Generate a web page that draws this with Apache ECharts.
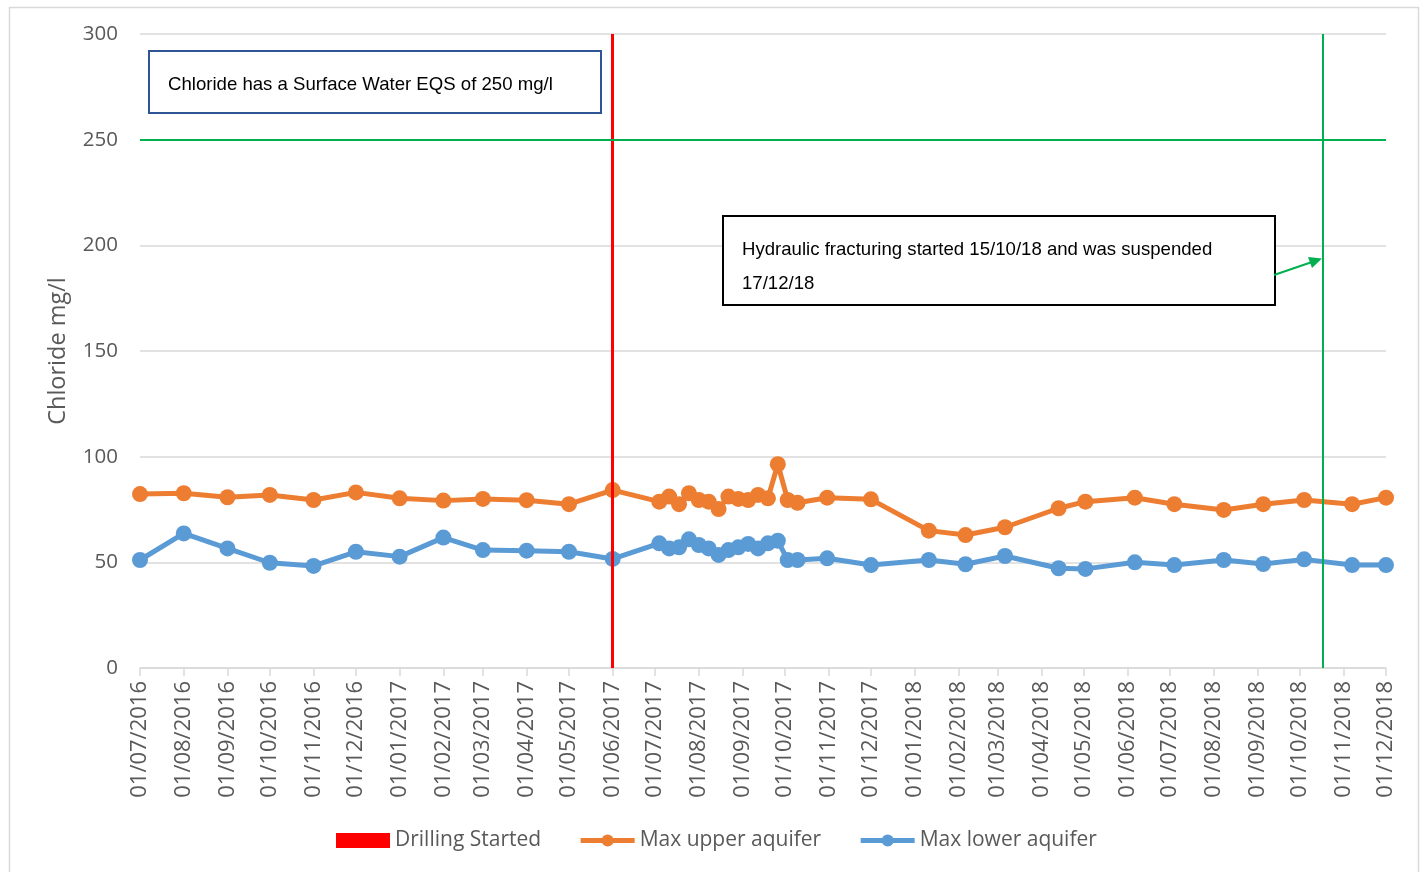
<!DOCTYPE html>
<html>
<head>
<meta charset="utf-8">
<script src="https://cdn.jsdelivr.net/npm/echarts@6/dist/echarts.min.js"></script>
<style>
html,body{margin:0;padding:0;background:#fff;}
#chart{width:1423px;height:872px;}
</style>
</head>
<body>
<div id="chart"></div>
<script>
const sampleDates = [
  '2016-07-01','2016-08-01','2016-09-01','2016-10-01','2016-11-01','2016-12-01',
  '2017-01-01','2017-02-01','2017-03-01','2017-04-01','2017-05-01','2017-06-01',
  '2017-07-04','2017-07-11','2017-07-18','2017-07-25','2017-08-01','2017-08-08',
  '2017-08-15','2017-08-22','2017-08-29','2017-09-05','2017-09-12','2017-09-19',
  '2017-09-26','2017-10-03','2017-10-10','2017-10-31',
  '2017-12-01','2018-01-11','2018-02-06','2018-03-06','2018-04-13','2018-05-02',
  '2018-06-06','2018-07-04','2018-08-08','2018-09-05','2018-10-04','2018-11-07','2018-12-01'
];
const upperAquifer = [
  82.3, 82.7, 80.8, 81.9, 79.5, 83.1, 80.3, 79.2, 80.0, 79.4, 77.5, 84.2,
  78.7, 81.1, 77.5, 82.7, 79.5, 78.7, 75.2, 81.1, 80.0, 79.5, 81.9, 80.3,
  96.4, 79.5, 78.2, 80.6,
  79.8, 65.0, 62.9, 66.6, 75.6, 78.7, 80.6, 77.5, 74.8, 77.5, 79.5, 77.5, 80.6
];
const lowerAquifer = [
  51.1, 63.7, 56.6, 49.8, 48.3, 55.0, 52.7, 61.7, 55.8, 55.5, 55.0, 51.6,
  59.0, 56.6, 57.1, 60.9, 58.2, 56.6, 53.5, 55.8, 57.1, 58.7, 56.6, 59.0,
  60.2, 51.1, 51.1, 51.9,
  48.7, 51.1, 49.1, 53.0, 47.2, 46.9, 50.0, 48.7, 51.1, 49.2, 51.4, 48.7, 48.7
];
const drillingStartDate = '2017-06-01';
const fracturingDate = '2018-10-17';
const eqsLimit = 250;
const axisMinDate = '2016-07-01';
const axisMaxDate = '2018-12-01';
const seriesNames = ['Drilling Started', 'Max upper aquifer', 'Max lower aquifer'];
const noteEqs = 'Chloride has a Surface Water EQS of 250 mg/l';
const noteFrackLines = ['Hydraulic fracturing started 15/10/18 and was suspended', '17/12/18'];

const pad = n => (n < 10 ? '0' : '') + n;
const fmtDate = v => { const d = new Date(v); return pad(d.getDate()) + '/' + pad(d.getMonth() + 1) + '/' + d.getFullYear(); };

const chart = echarts.init(document.getElementById('chart'));
const axisFont = '"Open Sans", sans-serif';
const noteFont = '"Liberation Sans", Arial, sans-serif';

chart.setOption({
  animation: false,
  backgroundColor: '#fff',
  grid: { left: 140, right: 37, top: 34, bottom: 204, containLabel: false },
  legend: {
    bottom: 16, left: 331, itemGap: 37, itemWidth: 54, itemHeight: 15,
    textStyle: { color: '#595959', fontSize: 21, fontFamily: axisFont },
    data: [
      { name: seriesNames[0], icon: 'rect', itemStyle: { color: '#FF0000' } },
      { name: seriesNames[1], lineStyle: { width: 5 } },
      { name: seriesNames[2], lineStyle: { width: 5 } }
    ]
  },
  xAxis: {
    type: 'time', min: axisMinDate, max: axisMaxDate,
    minInterval: 28 * 86400000, maxInterval: 31 * 86400000,
    axisLine: { lineStyle: { color: '#d9d9d9', width: 1.5 } },
    axisTick: { show: true, length: 8, lineStyle: { color: '#d9d9d9', width: 1.5 } },
    splitLine: { show: false },
    axisLabel: {
      rotate: 90, color: '#595959', fontSize: 22, fontFamily: axisFont, margin: 13,
      showMinLabel: true, showMaxLabel: true, hideOverlap: false,
      formatter: v => fmtDate(v)
    }
  },
  yAxis: {
    type: 'value', min: 0, max: 300, interval: 50,
    name: 'Chloride mg/l', nameLocation: 'middle', nameRotate: 90, nameGap: 70,
    nameTextStyle: { color: '#595959', fontSize: 23.5, fontFamily: axisFont },
    axisLine: { show: false }, axisTick: { show: false },
    splitLine: { lineStyle: { color: '#d9d9d9', width: 1.5 } },
    axisLabel: { color: '#595959', fontSize: 20.5, fontFamily: axisFont, margin: 22 }
  },
  series: [
    {
      name: seriesNames[0], type: 'line', data: [], color: '#FF0000',
      markLine: {
        silent: true, symbol: 'none', label: { show: false },
        lineStyle: { color: '#FF0000', width: 3, type: 'solid' },
        data: [{ xAxis: drillingStartDate }]
      }
    },
    {
      name: seriesNames[1], type: 'line', color: '#ED7D31',
      data: sampleDates.map((d, i) => [d, upperAquifer[i]]),
      symbol: 'circle', symbolSize: 16, lineStyle: { width: 5, color: '#ED7D31' },
      itemStyle: { color: '#ED7D31' }, z: 3,
      markLine: {
        silent: true, symbol: 'none', label: { show: false },
        lineStyle: { color: '#00B050', width: 2, type: 'solid' },
        data: [{ yAxis: eqsLimit }, { xAxis: fracturingDate }]
      }
    },
    {
      name: seriesNames[2], type: 'line', color: '#5B9BD5',
      data: sampleDates.map((d, i) => [d, lowerAquifer[i]]),
      symbol: 'circle', symbolSize: 16, lineStyle: { width: 5, color: '#5B9BD5' },
      itemStyle: { color: '#5B9BD5' }, z: 3
    }
  ],
  graphic: [
    { type: 'rect', left: 7, top: 5, z: -1, silent: true,
      shape: { width: 1409, height: 880 }, style: { fill: 'none', stroke: '#d9d9d9', lineWidth: 1.5 } },
    { type: 'rect', left: 148, top: 50, z: 10,
      shape: { width: 452, height: 62 }, style: { fill: '#fff', stroke: '#2F5597', lineWidth: 2 } },
    { type: 'text', left: 168, top: 75, z: 11,
      style: { text: noteEqs, font: '18.6px ' + noteFont, fill: '#000' } },
    { type: 'rect', left: 722, top: 215, z: 10,
      shape: { width: 552, height: 89 }, style: { fill: '#fff', stroke: '#000', lineWidth: 2 } },
    { type: 'text', left: 742, top: 233, z: 11,
      style: { text: noteFrackLines.join('\n'), font: '18.6px ' + noteFont, fill: '#000', lineHeight: 34 } },
    { type: 'line', z: 11, shape: { x1: 1274, y1: 275, x2: 1312, y2: 262 },
      style: { stroke: '#00B050', lineWidth: 2 } },
    { type: 'polygon', z: 11, shape: { points: [[1322, 258.5], [1308, 257], [1312, 268]] },
      style: { fill: '#00B050' } }
  ]
});
</script>
</body>
</html>
